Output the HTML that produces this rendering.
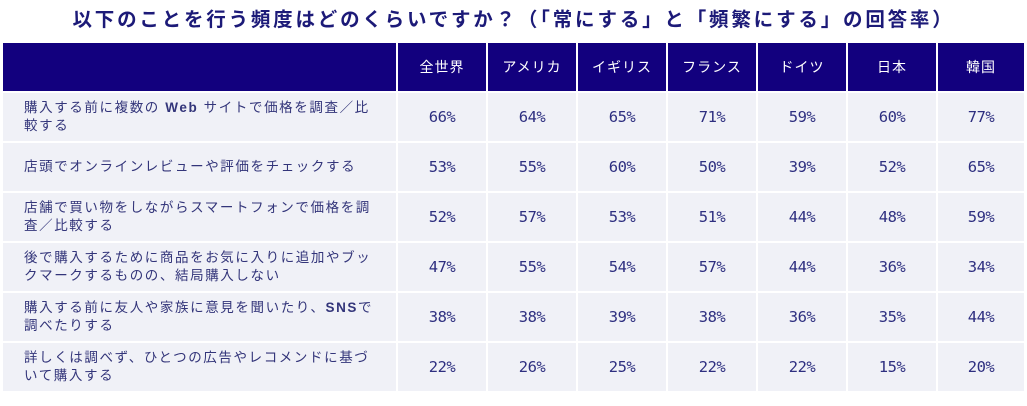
<!DOCTYPE html>
<html><head><meta charset="utf-8"><style>
body{margin:0;width:1027px;height:406px;background:#fff;overflow:hidden;font-family:"Liberation Sans","Noto Sans CJK JP",sans-serif}
.t{position:absolute;left:0;top:3px;width:1027px;text-align:center;font-size:19.5px;font-weight:bold;color:#1c1a78;letter-spacing:2.8px;white-space:nowrap}
table{position:absolute;left:3px;top:43px;border-collapse:separate;border-spacing:2px;margin:-2px}
td,th{padding:0}
th{background:#12007e;color:#fff;font-size:14px;font-weight:normal;height:48px;text-align:center;letter-spacing:1px}
td{background:#f0f1f7;color:#2e2f80;height:48px;font-size:14.5px;text-align:center}
td.l{text-align:left;font-size:13.5px;padding-left:21px;line-height:18px;color:#33357a;letter-spacing:1.6px}
td.n{font-family:"DejaVu Sans Mono",monospace;font-size:15.5px;letter-spacing:-0.5px}
</style></head><body>
<div class="t">以下のことを行う頻度はどのくらいですか？（「常にする」と「頻繁にする」の回答率）</div>
<table>
<tr><th style="width:393px"></th><th style="width:88px">全世界</th><th style="width:88px">アメリカ</th><th style="width:88px">イギリス</th><th style="width:88px">フランス</th><th style="width:88px">ドイツ</th><th style="width:88px">日本</th><th style="width:86px">韓国</th></tr>
<tr><td class="l">購入する前に複数の <b>Web</b> サイトで価格を調査／比<br>較する</td><td class="n">66%</td><td class="n">64%</td><td class="n">65%</td><td class="n">71%</td><td class="n">59%</td><td class="n">60%</td><td class="n">77%</td></tr>
<tr><td class="l">店頭でオンラインレビューや評価をチェックする</td><td class="n">53%</td><td class="n">55%</td><td class="n">60%</td><td class="n">50%</td><td class="n">39%</td><td class="n">52%</td><td class="n">65%</td></tr>
<tr><td class="l">店舗で買い物をしながらスマートフォンで価格を調<br>査／比較する</td><td class="n">52%</td><td class="n">57%</td><td class="n">53%</td><td class="n">51%</td><td class="n">44%</td><td class="n">48%</td><td class="n">59%</td></tr>
<tr><td class="l">後で購入するために商品をお気に入りに追加やブッ<br>クマークするものの、結局購入しない</td><td class="n">47%</td><td class="n">55%</td><td class="n">54%</td><td class="n">57%</td><td class="n">44%</td><td class="n">36%</td><td class="n">34%</td></tr>
<tr><td class="l">購入する前に友人や家族に意見を聞いたり、<b>SNS</b>で<br>調べたりする</td><td class="n">38%</td><td class="n">38%</td><td class="n">39%</td><td class="n">38%</td><td class="n">36%</td><td class="n">35%</td><td class="n">44%</td></tr>
<tr><td class="l">詳しくは調べず、ひとつの広告やレコメンドに基づ<br>いて購入する</td><td class="n">22%</td><td class="n">26%</td><td class="n">25%</td><td class="n">22%</td><td class="n">22%</td><td class="n">15%</td><td class="n">20%</td></tr>
</table>
</body></html>
